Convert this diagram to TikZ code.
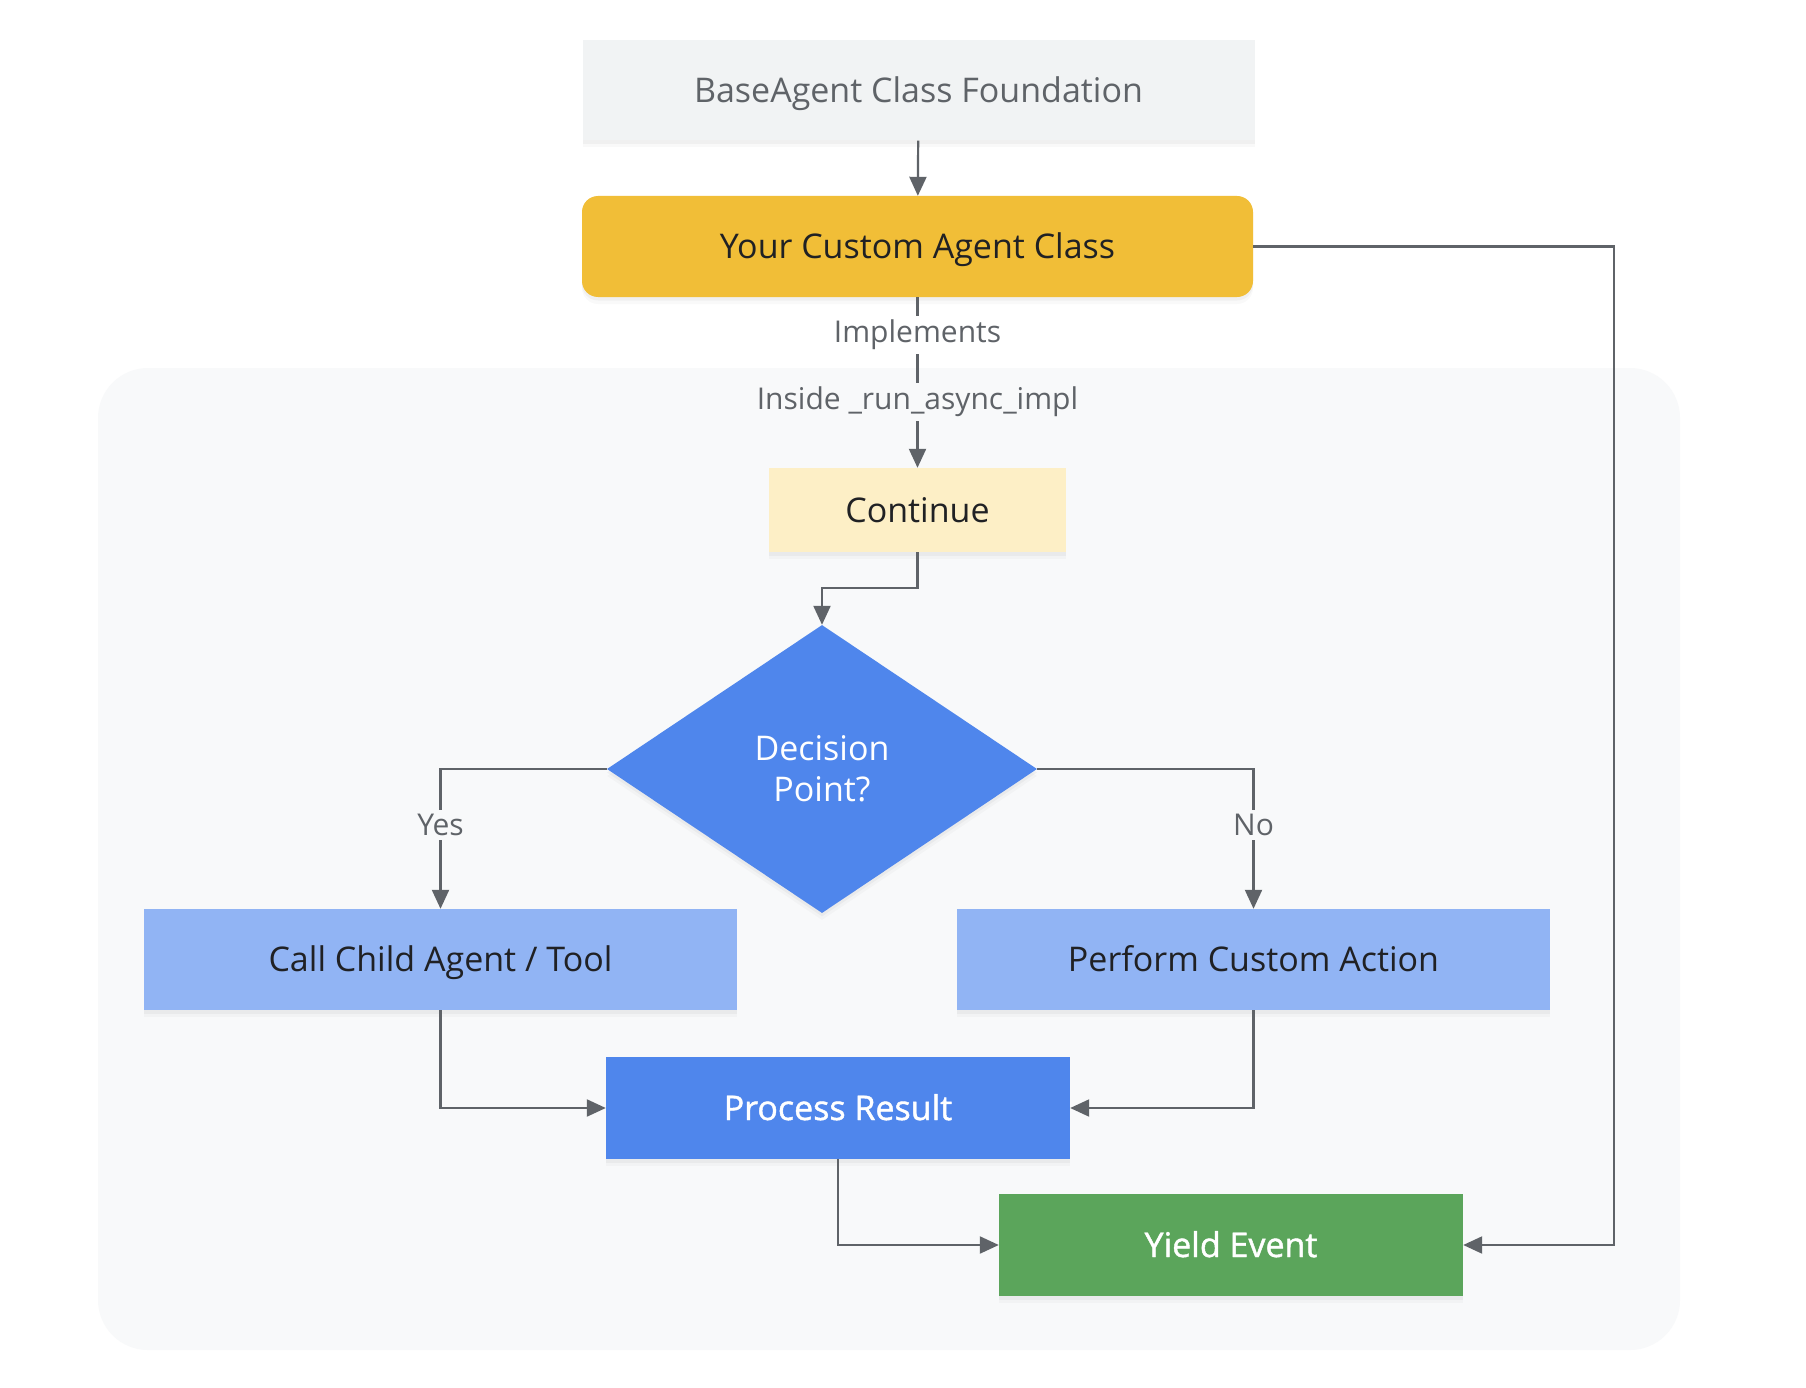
\documentclass[tikz,border=0pt]{standalone}
\usepackage{fontspec}
\setmainfont{Open Sans}
\newfontfamily\medfont{Open Sans}[FakeBold=1.3]
\usetikzlibrary{arrows.meta,shapes.geometric}
\definecolor{edgec}{HTML}{5F6368}
\definecolor{bgc}{HTML}{F8F9FA}
\definecolor{basec}{HTML}{F1F3F4}
\definecolor{customc}{HTML}{F1BE37}
\definecolor{contc}{HTML}{FDEFC6}
\definecolor{bluec}{HTML}{4F86EC}
\definecolor{lightbc}{HTML}{91B4F4}
\definecolor{greenc}{HTML}{5BA55B}
\definecolor{darkt}{HTML}{202124}
\begin{document}
\begin{tikzpicture}[x=1pt,y=1pt,
  shade1/.style={preaction={fill=black, fill opacity=0.025, transform canvas={yshift=-7pt}},
                 preaction={fill=black, fill opacity=0.035, transform canvas={yshift=-3.5pt}}},
  box/.style={rectangle, inner sep=0pt, font=\fontsize{34}{41}\selectfont, shade1},
  rbox/.style={box, text height=24pt, text depth=0pt},
  arr/.style={draw=edgec, line width=2.2pt, -{Triangle[length=19pt,width=17pt]}},
  lbl/.style={font=\fontsize{30}{36}\selectfont, text=edgec, inner sep=4pt}]
\useasboundingbox (0,0) rectangle (1806,-1388);
\fill[white] (0,0) rectangle (1806,-1388);
\fill[bgc, rounded corners=50pt] (98,-368) rectangle (1680,-1350);

\node[rbox, fill=basec, text=edgec, minimum width=672pt, minimum height=100pt] (base) at (918.5,-90.5) {BaseAgent Class Foundation};
\node[rbox, fill=customc, text=darkt, rounded corners=16pt, minimum width=671pt, minimum height=101pt] (custom) at (917.5,-246.5) {Your Custom Agent Class};
\node[rbox, fill=contc, text=darkt, minimum width=297pt, minimum height=84pt] (cont) at (917.5,-510) {Continue};
\node[box, diamond, fill=bluec, text=white, align=center, minimum width=430pt, minimum height=288pt] (decision) at (822,-769) {Decision\\Point?};
\node[rbox, fill=lightbc, text=darkt, minimum width=593pt, minimum height=101pt] (call) at (440.5,-959.5) {Call Child Agent / Tool};
\node[rbox, fill=lightbc, text=darkt, minimum width=593pt, minimum height=101pt] (perform) at (1253.5,-959.5) {Perform Custom Action};
\node[rbox, fill=bluec, text=white, minimum width=464pt, minimum height=102pt] (process) at (838,-1108) {\medfont Process Result};
\node[rbox, fill=greenc, text=white, minimum width=464pt, minimum height=102pt] (yield) at (1231,-1245) {\medfont Yield Event};

\draw[arr] (base) -- (custom);
\draw[arr] (custom.south) -- node[lbl, fill=white, pos=0.222] {Implements} node[lbl, fill=bgc, pos=0.614] {Inside \_run\_async\_impl} (cont.north);
\coordinate (bend) at (917.5,-588);
\draw[arr] (cont.south) -- (bend) -| (decision.north);
\draw[arr] (decision.west) -| node[lbl, fill=bgc, pos=0.70] {Yes} (call.north);
\draw[arr] (decision.east) -| node[lbl, fill=bgc, pos=0.70] {No} (perform.north);
\draw[arr] (call.south) |- (process.west);
\draw[arr] (perform.south) |- (process.east);
\draw[arr] (process.south) |- (yield.west);
\coordinate (rc) at (1614,-246.5);
\draw[arr] (custom.east) -- (rc) |- (yield.east);
\end{tikzpicture}
\end{document}
